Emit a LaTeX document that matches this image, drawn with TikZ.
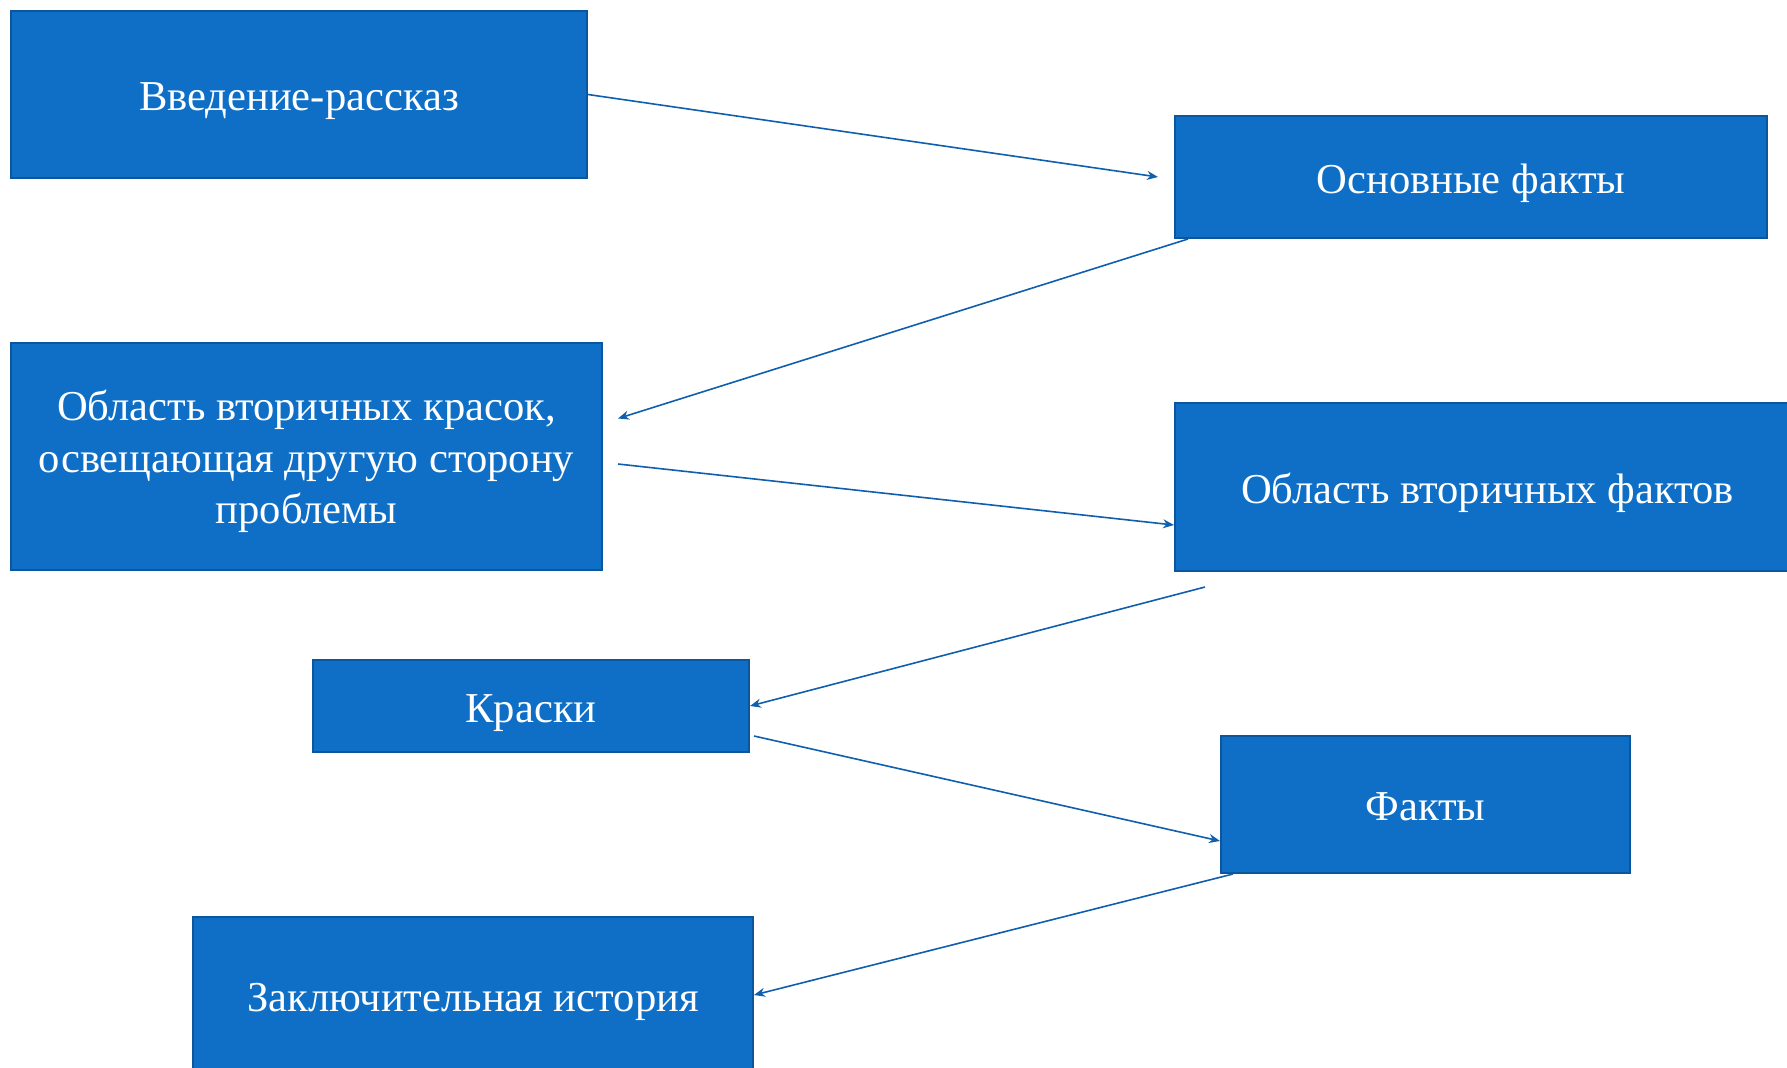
\documentclass[tikz,border=0pt]{standalone}
\usepackage{fontspec}
\setmainfont{Liberation Serif}
\usepackage{tikz}
\usetikzlibrary{shapes,arrows.meta,positioning,calc}

\definecolor{boxblue}{HTML}{0F6FC6}
\definecolor{boxline}{HTML}{0B569C}
\definecolor{linkblue}{HTML}{0F5FAE}

\tikzset{
    partbox/.style={draw=boxline, fill=boxblue, line width=1pt, text=white,
        align=center, inner sep=0pt, font=\fontsize{21.3}{25.8}\selectfont},
    oneline/.style={partbox, text height=20.5pt, text depth=4.5pt},
    link/.style={draw=linkblue, line width=0.8pt, -{Stealth[length=5.5pt,width=4.5pt]}}
}

\begin{document}
\begin{tikzpicture}[x=0.5pt, y=-0.5pt]
    % canvas in reference pixels
    \useasboundingbox (0,0) rectangle (1787,1067);

    \node[oneline, minimum width=288pt, minimum height=83.5pt] (intro) at (299,94.5) {Введение-рассказ};
    \node[oneline, minimum width=296pt, minimum height=61pt] (main) at (1471,177) {Основные факты};
    \node[partbox, text height=72pt, text depth=4.7pt, minimum width=295.5pt, minimum height=113.5pt] (colors2) at (306.5,456.5)
        {Область вторичных красок,\\освещающая другую сторону\\проблемы};
    \node[oneline, minimum width=312.5pt, minimum height=84pt] (facts2) at (1487.5,487) {Область вторичных фактов};
    \node[oneline, minimum width=218pt, minimum height=46pt] (colors) at (531,706) {Краски};
    \node[oneline, minimum width=204.5pt, minimum height=68.5pt] (facts) at (1425.5,804.5) {Факты};
    \node[oneline, minimum width=280pt, minimum height=78pt] (final) at (473,995) {Заключительная история};

    % story order
    \draw[link] (intro.east) -- ($(main.west)+(-16,0)$);
    \draw[link] ($(main.south west)+(14,0)$) -- ($(colors2.east)+(15,-38)$);
    \draw[link] ($(colors2.east)+(15,7.5)$) -- ($(facts2.west)+(0,38)$);
    \draw[link] ($(facts2.south west)+(31,15)$) -- (colors.east);
    \draw[link] ($(colors.east)+(4,30)$) -- ($(facts.west)+(0,36.5)$);
    \draw[link] ($(facts.south west)+(13,0)$) -- (final.east);
\end{tikzpicture}
\end{document}
